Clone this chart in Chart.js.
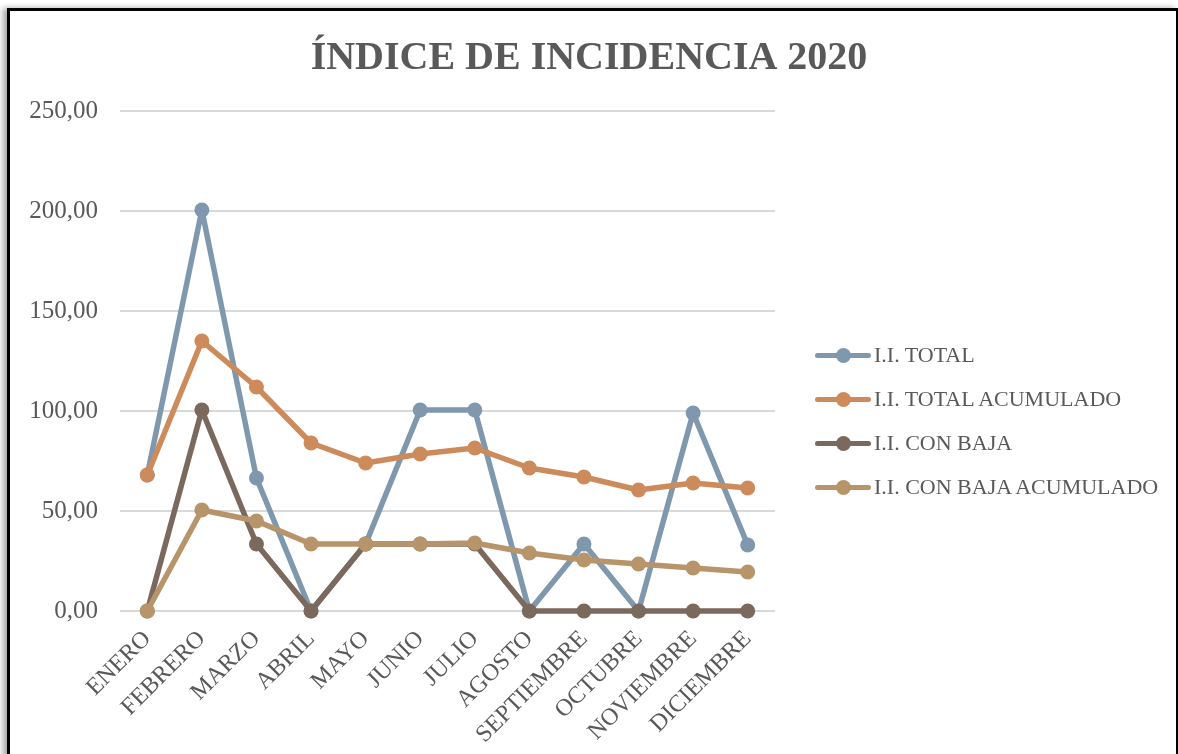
<!DOCTYPE html>
<html lang="es">
<head>
<meta charset="utf-8">
<title>Índice de incidencia 2020</title>
<script src="https://cdn.jsdelivr.net/npm/chart.js@4.4.1/dist/chart.umd.min.js"></script>
<style>
  html, body {
    margin: 0;
    padding: 0;
    background: #fff;
    width: 1178px;
    height: 754px;
    overflow: hidden;
  }
  .marco {
    position: absolute;
    left: 7px;
    top: 8px;
    width: 1166px;
    height: 800px;
    border-top: 3px solid #000;
    border-left: 3px solid #000;
    border-right: 2px solid #000;
    box-shadow: -4px 0 6px rgba(0, 0, 0, 0.35);
  }
  #chart {
    position: absolute;
    left: 0;
    top: 0;
  }
  #leyenda {
    position: absolute;
    left: 815px;
    top: 333px;
    font-family: "Liberation Serif", "Times New Roman", serif;
    font-size: 22px;
    color: #595959;
  }
  #leyenda ul {
    list-style: none;
    margin: 0;
    padding: 0;
  }
  #leyenda li {
    display: flex;
    align-items: center;
    height: 44px;
  }
  .muestra {
    position: relative;
    display: inline-block;
    width: 56px;
    height: 5px;
    border-radius: 3px;
    margin-right: 3px;
  }
  .muestra span {
    position: absolute;
    left: 21px;
    top: -5px;
    width: 15px;
    height: 15px;
    border-radius: 50%;
  }
</style>
</head>
<body>
<div class="marco"></div>
<canvas id="chart" width="1178" height="754"></canvas>
<div id="leyenda"></div>

<script>
const meses = ["ENERO", "FEBRERO", "MARZO", "ABRIL", "MAYO", "JUNIO", "JULIO", "AGOSTO", "SEPTIEMBRE", "OCTUBRE", "NOVIEMBRE", "DICIEMBRE"];

const iiTotal = [68, 200.5, 66.5, 0, 33.5, 100.5, 100.5, 0, 33.5, 0, 99, 33];
const iiTotalAcumulado = [68, 135, 112, 84, 74, 78.5, 81.5, 71.5, 67, 60.5, 64, 61.5];
const iiConBaja = [0, 100.5, 33.5, 0, 33.5, 33.5, 33.5, 0, 0, 0, 0, 0];
const iiConBajaAcumulado = [0, 50.5, 45, 33.5, 33.5, 33.5, 34, 29, 25.5, 23.5, 21.5, 19.5];

const series = [
  { label: "I.I. TOTAL", data: iiTotal, color: "#7f98ae" },
  { label: "I.I. TOTAL ACUMULADO", data: iiTotalAcumulado, color: "#cd8b5b" },
  { label: "I.I. CON BAJA", data: iiConBaja, color: "#7b695e" },
  { label: "I.I. CON BAJA ACUMULADO", data: iiConBajaAcumulado, color: "#b8946a" },
];

const fuente = "'Liberation Serif', 'Times New Roman', serif";
const gris = "#595959";

function formatoNumero(v) {
  return v.toFixed(2).replace(".", ",");
}

function pintarLeyenda() {
  const ul = document.createElement("ul");
  series.forEach((s) => {
    const li = document.createElement("li");
    const muestra = document.createElement("span");
    muestra.className = "muestra";
    muestra.style.background = s.color;
    const punto = document.createElement("span");
    punto.style.background = s.color;
    muestra.appendChild(punto);
    li.appendChild(muestra);
    li.appendChild(document.createTextNode(s.label));
    ul.appendChild(li);
  });
  document.getElementById("leyenda").appendChild(ul);
}

const ctx = document.getElementById("chart").getContext("2d");

new Chart(ctx, {
  type: "line",
  data: {
    labels: meses,
    datasets: series.map((s, i) => ({
      label: s.label,
      data: s.data,
      borderColor: s.color,
      backgroundColor: s.color,
      pointBackgroundColor: s.color,
      pointBorderWidth: 0,
      pointRadius: 7.5,
      borderWidth: 5.5,
      borderJoinStyle: "round",
      borderCapStyle: "round",
      tension: 0,
      fill: false,
      clip: false,
      order: series.length - i,
    })),
  },
  options: {
    responsive: false,
    animation: false,
    plugins: {
      legend: { display: false },
      tooltip: { enabled: false },
      title: {
        display: true,
        text: "ÍNDICE DE INCIDENCIA 2020",
        color: gris,
        font: { family: fuente, size: 40, weight: "bold" },
        padding: { top: 35, bottom: 28 },
        align: "center",
      },
    },
    scales: {
      x: {
        offset: true,
        grid: { display: false },
        border: { display: false },
        ticks: {
          color: gris,
          font: { family: fuente, size: 24 },
          minRotation: 45,
          maxRotation: 45,
          padding: 6,
          autoSkip: false,
        },
        afterFit(scale) {
          scale.height = 143;
        },
      },
      y: {
        min: 0,
        max: 250,
        grid: { color: "#d9d9d9", lineWidth: 2, drawTicks: false },
        border: { display: false },
        ticks: {
          stepSize: 50,
          color: gris,
          font: { family: fuente, size: 25 },
          padding: 22,
          callback: (v) => formatoNumero(v),
        },
        afterFit(scale) {
          scale.width = 120;
        },
      },
      // espacio vacio a la derecha para la leyenda
      derecha: {
        type: "linear",
        position: "right",
        grid: { display: false },
        border: { display: false },
        ticks: { display: false },
        afterFit(scale) {
          scale.width = 403;
        },
      },
    },
  },
});

pintarLeyenda();
</script>
</body>
</html>
